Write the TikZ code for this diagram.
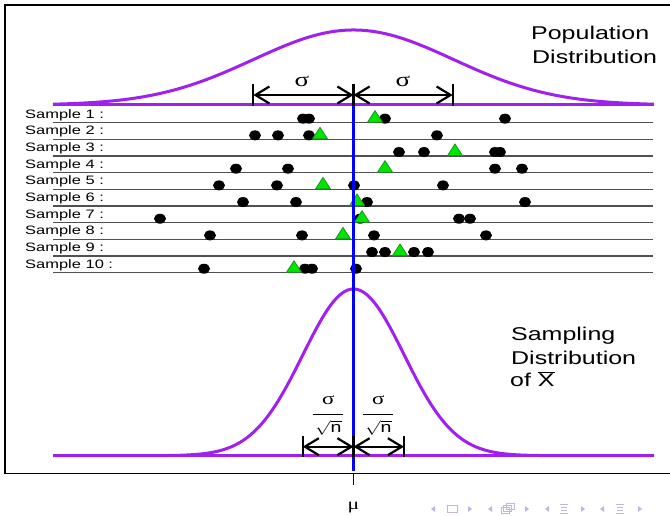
\documentclass[tikz,border=0pt]{standalone}
\usepackage{fontspec}
\usepackage{graphicx}
\setmainfont{Liberation Sans}
\newfontfamily\lab[FakeStretch=1.35]{Liberation Sans}
\newfontfamily\grk[FakeStretch=1.35]{Liberation Serif}
\usetikzlibrary{arrows.meta}
\definecolor{curvepurple}{RGB}{160,32,240}
\definecolor{meanblue}{RGB}{0,0,255}
\definecolor{trifill}{RGB}{0,230,0}
\definecolor{triedge}{RGB}{30,150,30}
\definecolor{samplegray}{RGB}{80,80,80}
\definecolor{navcol}{RGB}{185,185,228}
\newcommand{\widesym}[2]{{\grk\fontsize{#1}{#1}\selectfont #2}}
\begin{document}
\begin{tikzpicture}[x=1pt,y=-1pt,
  curve/.style={curvepurple,line width=3pt},
  sampleline/.style={samplegray,line width=1.2pt},
  dimline/.style={black,line width=2.2pt,{Straight Barb[length=14pt,width=17pt]}-{Straight Barb[length=14pt,width=17pt]}},
  dimbar/.style={black,line width=2.2pt},
  samplelabel/.style={inner sep=0pt,anchor=base west,font=\lab\fontsize{12.2}{12.2}\selectfont},
  bigtext/.style={inner sep=0pt,anchor=base west,font=\lab\fontsize{18.5}{18.5}\selectfont},
  symlabel/.style={inner sep=0pt},
  dotmark/.style={black},
  trimark/.style={fill=trifill,draw=triedge,line width=0.8pt},
  navmark/.style={navcol}]
\useasboundingbox (0,0) rectangle (670,516);
% frame
\draw[line width=1.6pt] (675,5) -- (4.7,5) -- (4.7,473.3) -- (675,473.3);
% titles
\node[bigtext] (pop1) at (531,39.5) {Population};
\node[bigtext] (pop2) at (532,63.5) {Distribution};
\node[bigtext] (smp1) at (511,340.7) {Sampling};
\node[bigtext] (smp2) at (511,364) {Distribution};
\node[bigtext] (smp3) at (510,386) {of $\overline{\hbox{\lab X}}$};
% samples
\foreach \i/\dl/\tl in {1/{303,309,385,505}/{375},
                        2/{255,278,309,437}/{320},
                        3/{399,424,495,500}/{455},
                        4/{236,288,495,522}/{385},
                        5/{219,277,354,443}/{323},
                        6/{243,296,367,525}/{357},
                        7/{160,360,459,470}/{362},
                        8/{210,302,374,486}/{343},
                        9/{372,385,414,428}/{400},
                        10/{204,305,312,356}/{294}}{
  \pgfmathsetmacro{\L}{122.7+16.67*(\i-1)}
  \node[samplelabel] (s\i) at (25,\L-4.4) {Sample \i~:};
  \draw[sampleline] (53,\L) -- (652.7,\L);
  \foreach \d in \dl {\fill[dotmark] (\d,\L-4) ellipse [x radius=6pt,y radius=5pt];}
  \foreach \t in \tl {\filldraw[trimark] (\t-7.5,\L-0.5) -- (\t+7.5,\L-0.5) -- (\t,\L-12) -- cycle;}
}
% curves
\draw[curve] (53,105) -- (654,105);
\draw[curve] plot[domain=53:654,samples=200] (\x,{105-75*exp(-0.5*((\x-353.5)/100)^2)});
\draw[curve] (53,455.7) -- (654,455.7);
\draw[curve] plot[domain=53:654,samples=250] (\x,{455.7-166.7*exp(-0.5*((\x-353.5)/50.5)^2)});
% mean line
\coordinate (mutop) at (353.5,105);
\coordinate (mubot) at (353.5,471);
\draw[meanblue,line width=2.6pt] (mutop) -- (mubot);
\coordinate (tickt) at (353.5,473.3);
\coordinate (tickb) at (353.5,485);
\draw[line width=1pt] (tickt) -- (tickb);
\node[symlabel,anchor=base] (mu) at (353.5,509) {\widesym{16}{μ}};
% sigma dimension (top)
\coordinate (sL) at (253.3,95);
\coordinate (sC) at (353.5,95);
\coordinate (sR) at (452.7,95);
\foreach \c in {sL,sC,sR} {\draw[dimbar] (\c) ++(0,-11) -- ++(0,22);}
\draw[dimline] (sL) -- (sC);
\draw[dimline] (sC) -- (sR);
\node[symlabel] (sig1) at (302,81) {\widesym{20}{σ}};
\node[symlabel] (sig2) at (403,81) {\widesym{20}{σ}};
% sigma/sqrt(n) dimension (bottom)
\coordinate (bL) at (302.7,446.7);
\coordinate (bC) at (353.5,446.7);
\coordinate (bR) at (404,446.7);
\foreach \c in {bL,bC,bR} {\draw[dimbar] (\c) ++(0,-11) -- ++(0,21);}
\draw[dimline] (bL) -- (bC);
\draw[dimline] (bC) -- (bR);
\node[symlabel] (fs1) at (328.3,400) {\widesym{17}{σ}};
\node[symlabel] (fs2) at (378.3,400) {\widesym{17}{σ}};
\coordinate (r1a) at (313,414); \coordinate (r1b) at (343.3,414);
\coordinate (r2a) at (362.7,414); \coordinate (r2b) at (392.7,414);
\draw[line width=1pt] (r1a) -- (r1b);
\draw[line width=1pt] (r2a) -- (r2b);
\node[symlabel] (fn1) at (328.3,428) {\scalebox{1.3}[1]{\fontsize{15}{15}\selectfont$\sqrt{\hbox{n}}$}};
\node[symlabel] (fn2) at (378.3,428) {\scalebox{1.3}[1]{\fontsize{15}{15}\selectfont$\sqrt{\hbox{n}}$}};
% navigation symbols
\foreach \cx in {433,490,547,602} {\fill[navmark] (\cx+2,506) -- (\cx-2,509) -- (\cx+2,512) -- cycle;}
\foreach \cx in {470,527,583,640} {\fill[navmark] (\cx-2,506) -- (\cx+2,509) -- (\cx-2,512) -- cycle;}
\draw[navmark,line width=0.8pt] (447,505.5) rectangle (457,512.5);
\draw[navmark,line width=0.8pt] (501,507.5) rectangle (509,513.5);
\draw[navmark,line width=0.8pt] (503.5,505.5) rectangle (511.5,511.5);
\draw[navmark,line width=0.8pt] (506,503.5) rectangle (514,509.5);
\foreach \cx in {564,620} {
  \draw[navmark,line width=0.8pt] (\cx-4,504) -- (\cx+4,504);
  \draw[navmark,line width=0.8pt] (\cx-3,507) -- (\cx+3,507);
  \draw[navmark,line width=0.8pt] (\cx-3,510) -- (\cx+3,510);
  \draw[navmark,line width=0.8pt] (\cx-4,513) -- (\cx+4,513);
}
\end{tikzpicture}
\end{document}
